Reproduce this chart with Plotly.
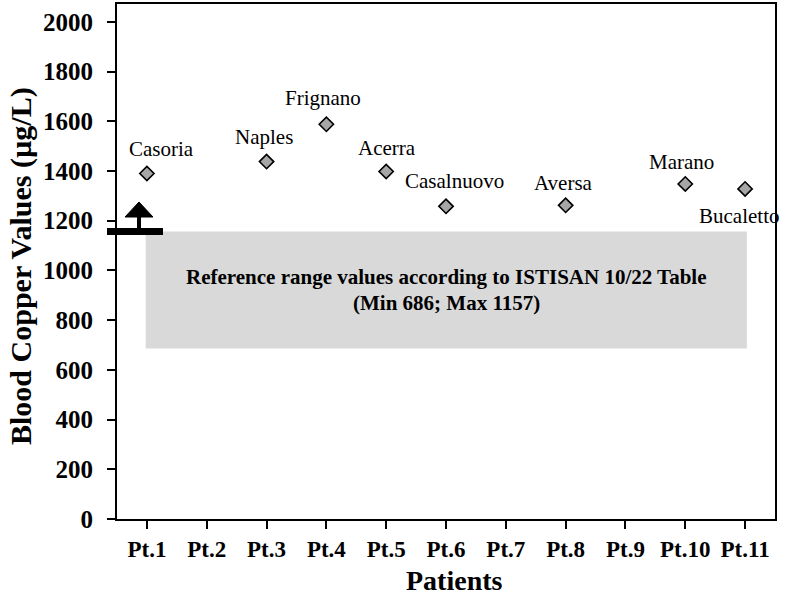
import plotly.graph_objects as go

categories = ["Pt.1", "Pt.2", "Pt.3", "Pt.4", "Pt.5", "Pt.6", "Pt.7", "Pt.8", "Pt.9", "Pt.10", "Pt.11"]
point_patients = ["Pt.1", "Pt.3", "Pt.4", "Pt.5", "Pt.6", "Pt.8", "Pt.10", "Pt.11"]
point_towns = ["Casoria", "Naples", "Frignano", "Acerra", "Casalnuovo", "Aversa", "Marano", "Bucaletto"]
copper_values = [1390, 1438, 1588, 1398, 1258, 1262, 1348, 1328]
ref_min = 686
ref_max = 1157
y_ticks = [0, 200, 400, 600, 800, 1000, 1200, 1400, 1600, 1800, 2000]

YMAX = 2072
FONT = "Liberation Serif"

# pixel -> paper helpers (plot area: x 117..775, y 4..519)
L, R, T, B = 117, 775, 4, 519
def px(x):
    return (x - L) / (R - L)
def py(y):
    return (B - y) / (B - T)

fig = go.Figure()
fig.add_trace(go.Scatter(
    x=point_patients, y=copper_values, mode="markers",
    marker=dict(symbol="diamond", size=11, color="#a6a6a6",
                line=dict(color="black", width=1.6)),
    cliponaxis=False, showlegend=False, hoverinfo="x+y",
))

shapes = [
    dict(type="rect", xref="x", yref="y", x0=-0.02, x1=10.03, y0=ref_min, y1=ref_max,
         fillcolor="#d9d9d9", line=dict(width=0), layer="below"),
    dict(type="line", xref="paper", yref="paper", x0=px(107), x1=px(163),
         y0=ref_max / YMAX, y1=ref_max / YMAX, line=dict(color="black", width=7)),
    dict(type="line", xref="paper", yref="paper", x0=px(139), x1=px(139),
         y0=ref_max / YMAX, y1=py(216), line=dict(color="black", width=4)),
    dict(type="path", xref="paper", yref="paper",
         path=f"M {px(125)} {py(217)} L {px(153)} {py(217)} L {px(139)} {py(202)} Z",
         fillcolor="black", line=dict(color="black", width=1)),
]

xshifts = [15, -3, -3, 1, 8, -2, -4, -6]
yshifts = [25, 25, 26, 24, 25, 22, 22, -27]
annotations = []
for p, t, v, xs, ys in zip(point_patients, point_towns, copper_values, xshifts, yshifts):
    annotations.append(dict(x=p, y=v, text=t, showarrow=False, xshift=xs, yshift=ys,
                            xanchor="center", yanchor="middle",
                            font=dict(family=FONT, size=21, color="black")))
box_cx = (px(145) + px(748)) / 2
annotations.append(dict(
    x=box_cx, y=py(277), xref="paper", yref="paper", xanchor="center", yanchor="middle",
    text="<b>Reference range values according to ISTISAN 10/22 Table</b>",
    showarrow=False, font=dict(family=FONT, size=21, color="black")))
annotations.append(dict(
    x=box_cx, y=py(303), xref="paper", yref="paper", xanchor="center", yanchor="middle",
    text="<b>(Min 686; Max 1157)</b>",
    showarrow=False, font=dict(family=FONT, size=21, color="black")))
annotations.append(dict(
    x=px(454), y=py(580), xref="paper", yref="paper", xanchor="center", yanchor="middle",
    text="<b>Patients</b>",
    showarrow=False, font=dict(family=FONT, size=28, color="black")))
annotations.append(dict(
    x=px(21), y=py(266), xref="paper", yref="paper", xanchor="center", yanchor="middle",
    text="<b>Blood Copper Values (µg/L)</b>",
    textangle=-90, showarrow=False, font=dict(family=FONT, size=30, color="black")))

fig.update_layout(
    width=787, height=607,
    margin=dict(l=L, r=787 - R, t=T, b=607 - B, autoexpand=False),
    paper_bgcolor="white", plot_bgcolor="white",
    shapes=shapes, annotations=annotations,
    font=dict(family=FONT, color="black"),
    xaxis=dict(
        type="category", categoryorder="array", categoryarray=categories,
        range=[-0.5, 10.5], showgrid=False, zeroline=False, automargin=False,
        showline=True, linecolor="black", linewidth=2, mirror=True,
        ticks="outside", ticklen=8, tickwidth=2, tickcolor="black",
        tickvals=categories, ticktext=["<b>%s</b>" % c for c in categories],
        tickfont=dict(family=FONT, size=23, color="black"),
    ),
    yaxis=dict(
        range=[0, YMAX], showgrid=False, zeroline=False, automargin=False,
        showline=True, linecolor="black", linewidth=2, mirror=True,
        ticks="outside", ticklen=8, tickwidth=2, tickcolor="black",
        tickvals=y_ticks, ticktext=["<b>%d</b>" % v for v in y_ticks],
        tickfont=dict(family=FONT, size=25, color="black"), ticklabelstandoff=9,
    ),
)

fig.write_html("out.html", config={"displayModeBar": False},
               post_script="document.body.style.margin='0';document.body.style.overflow='hidden';")
